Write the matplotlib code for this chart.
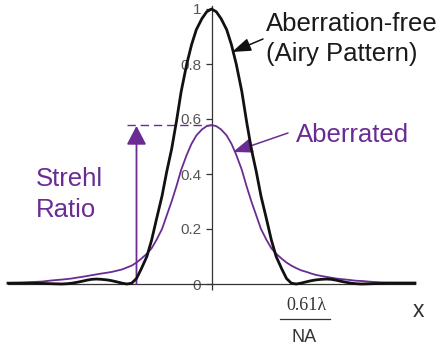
import numpy as np
import matplotlib
matplotlib.use('Agg')
import matplotlib.pyplot as plt
from matplotlib.lines import Line2D

plt.rcParams['font.family'] = ['Liberation Sans', 'DejaVu Sans']

# radial position in units of the first dark ring (0.61 lambda / NA)
r = [0.0, 0.06, 0.12, 0.19, 0.25, 0.31, 0.38, 0.44, 0.5, 0.56, 0.62, 0.69,
     0.75, 0.81, 0.88, 0.94, 1.0, 1.06, 1.12, 1.19, 1.25, 1.31, 1.38, 1.44,
     1.5, 1.56, 1.62, 1.69, 1.75, 1.81, 1.88, 2.0, 2.12, 2.25, 2.38, 2.55]

# aberration-free (Airy) intensity, same on both sides
airy = [1.0, 0.99, 0.965, 0.925, 0.87, 0.80, 0.70, 0.59, 0.49, 0.41, 0.32, 0.235,
        0.16, 0.10, 0.055, 0.02, 0.003, 0.0, 0.003, 0.008, 0.012, 0.015, 0.017, 0.018,
        0.017, 0.014, 0.01, 0.006, 0.003, 0.001, 0.0, 0.001, 0.002, 0.003, 0.003, 0.003]

# aberrated intensity, right and left halves
aberr_right = [0.578, 0.574, 0.562, 0.54, 0.51, 0.47, 0.415, 0.355, 0.30, 0.25, 0.20, 0.16,
               0.13, 0.11, 0.092, 0.078, 0.067, 0.058, 0.05, 0.044, 0.038, 0.033, 0.029, 0.026,
               0.023, 0.02, 0.018, 0.016, 0.014, 0.012, 0.011, 0.008, 0.006, 0.005, 0.005, 0.005]
aberr_left = [0.578, 0.574, 0.562, 0.54, 0.51, 0.47, 0.415, 0.355, 0.30, 0.25, 0.20, 0.16,
              0.13, 0.11, 0.092, 0.078, 0.067, 0.06, 0.053, 0.048, 0.044, 0.041, 0.038, 0.035,
              0.032, 0.029, 0.026, 0.023, 0.02, 0.018, 0.016, 0.013, 0.009, 0.007, 0.005, 0.004]

yticks = [0, 0.2, 0.4, 0.6, 0.8, 1]
ytick_labels = ['0', '0.2', '0.4', '0.6', '0.8', '1']

purple = '#6a2c93'

r = np.array(r)
x_full = np.concatenate([-r[::-1], r[1:]])
airy_full = np.concatenate([np.array(airy)[::-1], np.array(airy)[1:]])
aberr_full = np.concatenate([np.array(aberr_left)[::-1], np.array(aberr_right)[1:]])

W, H = 441, 347
fig = plt.figure(figsize=(W / 100, H / 100), dpi=100)
ax = fig.add_axes([8 / W, 63 / H, 407 / W, 277.75 / H])


def fx(px):
    return px / W


def fy(py):
    return 1 - py / H


ax.plot(x_full, aberr_full, color=purple, lw=1.3, clip_on=False, zorder=3)
ax.plot(x_full, airy_full, color='#111111', lw=2.0, clip_on=False, zorder=4)

ax.set_xlim(-2.55, 2.55)
ax.set_ylim(0, 1.01)

for s in ['top', 'right']:
    ax.spines[s].set_visible(False)
ax.spines['left'].set_position(('data', 0))
ax.spines['left'].set_color('#333333')
ax.spines['bottom'].set_color('#333333')
ax.spines['left'].set_linewidth(0.9)
ax.spines['bottom'].set_linewidth(0.9)

ax.set_yticks(yticks)
ax.set_yticklabels(ytick_labels)
ax.set_xticks([0])
ax.set_xticklabels([''])
ax.tick_params(axis='both', direction='out', length=4, width=0.9, color='#333333',
               labelsize=11, labelcolor='#555555', pad=3.5)

# Strehl ratio arrow and dashed level
peak = aberr_right[0]
ax.plot([-1.06, 0], [peak, peak], color=purple, lw=1.0, ls=(0, (6, 3.5)), zorder=2)
ax.annotate('', xy=(-0.94, peak - 0.003), xytext=(-0.94, 0),
            arrowprops=dict(arrowstyle='-|>,head_length=1.15,head_width=0.6',
                            mutation_scale=10, color=purple, lw=1.3,
                            shrinkA=0, shrinkB=0))

# labels
fs = 18.5
fig.text(fx(266), fy(31), 'Aberration-free', fontsize=fs, color='#1a1a1a', va='baseline')
fig.text(fx(266), fy(61), '(Airy Pattern)', fontsize=fs, color='#1a1a1a', va='baseline')
fig.text(fx(296), fy(142), 'Aberrated', fontsize=fs, color=purple, va='baseline')
fig.text(fx(36), fy(186), 'Strehl', fontsize=fs, color=purple, va='baseline')
fig.text(fx(36), fy(217), 'Ratio', fontsize=fs, color=purple, va='baseline')

ax.annotate('', xy=(232, H - 52), xycoords='figure pixels',
            xytext=(263, H - 39), textcoords='figure pixels',
            arrowprops=dict(arrowstyle='-|>,head_length=1.15,head_width=0.4',
                            mutation_scale=10, color='#111111', lw=1.1,
                            shrinkA=0, shrinkB=0))
ax.annotate('', xy=(233, H - 152), xycoords='figure pixels',
            xytext=(288, H - 133), textcoords='figure pixels',
            arrowprops=dict(arrowstyle='-|>,head_length=1.2,head_width=0.45',
                            mutation_scale=10, color=purple, lw=1.1,
                            shrinkA=0, shrinkB=0))

# x-axis annotation 0.61 lambda / NA
fig.text(fx(306), fy(310), '0.61\u03bb', fontsize=13, color='#333333', ha='center',
         va='baseline', family=['Liberation Serif', 'DejaVu Serif'])
fig.add_artist(Line2D([fx(280), fx(330)], [fy(319), fy(319)], color='#333333', lw=0.9))
fig.text(fx(304), fy(342), 'NA', fontsize=13, color='#333333', ha='center', va='baseline')
fig.text(fx(418), fy(317), 'x', fontsize=16.5, color='#333333', ha='center', va='baseline')

fig.savefig('out.png', dpi=100)
